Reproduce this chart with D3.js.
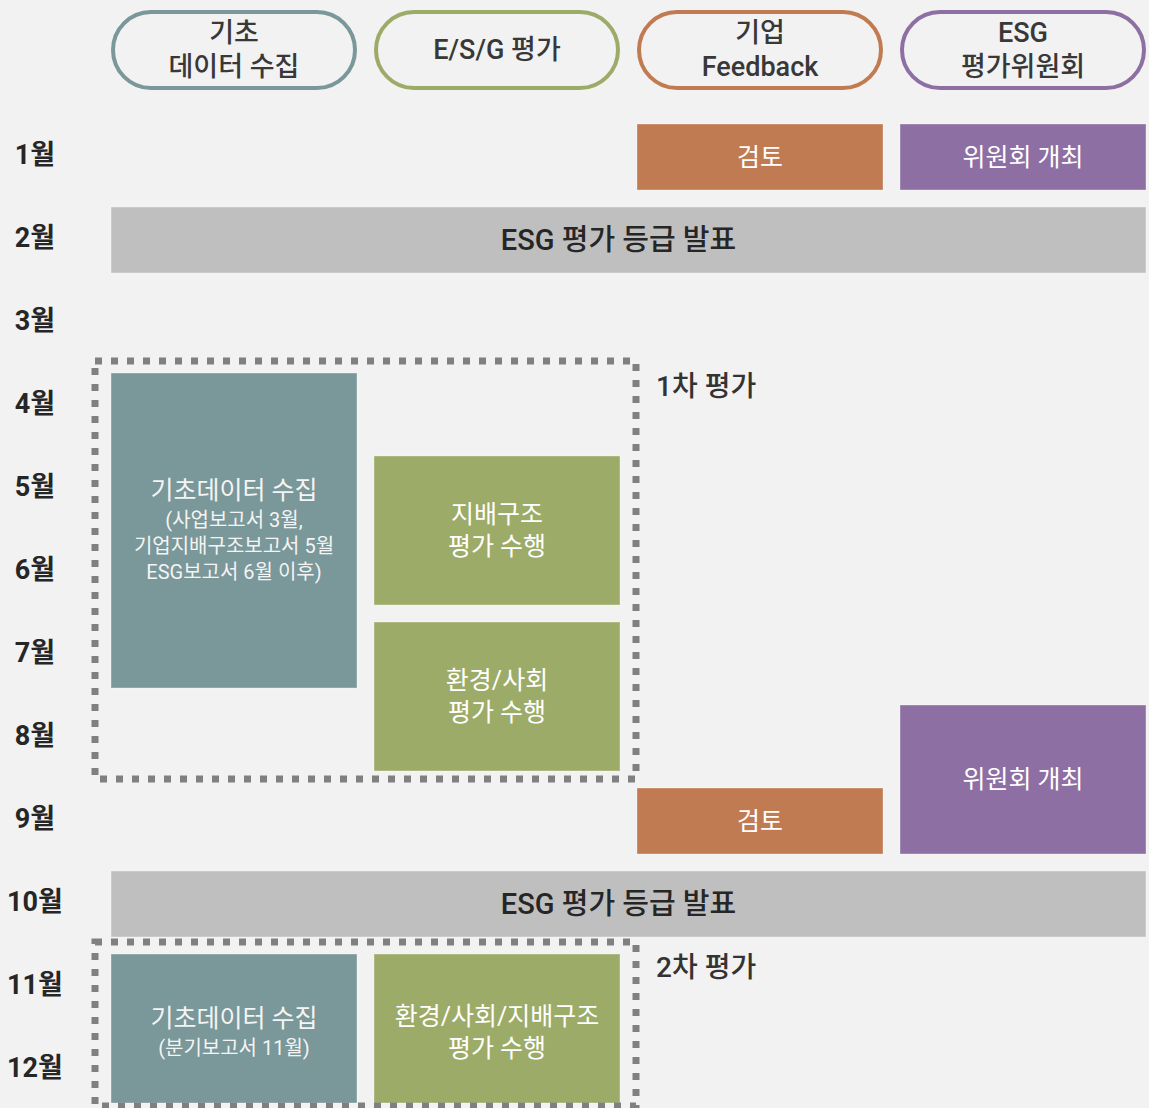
<!DOCTYPE html>
<html><head><meta charset="utf-8">
<script src="https://cdn.jsdelivr.net/npm/d3@7"></script>
<style>
html,body{margin:0;padding:0;background:#f2f2f2;}
text{font-family:Roboto,"Noto Sans CJK KR",sans-serif;}
</style></head>
<body>
<svg id="chart" width="1149" height="1108"></svg>
<script>
// ---- data ----
const months = ["1월","2월","3월","4월","5월","6월","7월","8월","9월","10월","11월","12월"];
const columns = [
  {lines:["기초","데이터 수집"], color:"#7a9799"},
  {lines:["E/S/G 평가"], color:"#9dab68"},
  {lines:["기업","Feedback"], color:"#c17b52"},
  {lines:["ESG","평가위원회"], color:"#8e6fa3"}
];
// col: start column index, span: number of columns, m0/m1: first/last month
const tasks = [
  {col:2, span:1, m0:1, m1:1, lines:["검토"], color:"#c17b52", text:"#ffffff"},
  {col:3, span:1, m0:1, m1:1, lines:["위원회 개최"], color:"#8e6fa3", text:"#ffffff"},
  {col:0, span:4, m0:2, m1:2, lines:["ESG 평가 등급 발표"], color:"#bfbfbf", text:"#262626", bold:true, shift:-10},
  {col:0, span:1, m0:4, m1:7, lines:["기초데이터 수집","(사업보고서 3월,","기업지배구조보고서 5월","ESG보고서 6월 이후)"], color:"#7a9799", text:"#f4f4f4", small:true},
  {col:1, span:1, m0:5, m1:6, lines:["지배구조","평가 수행"], color:"#9dab68", text:"#ffffff"},
  {col:1, span:1, m0:7, m1:8, lines:["환경/사회","평가 수행"], color:"#9dab68", text:"#ffffff"},
  {col:3, span:1, m0:8, m1:9, lines:["위원회 개최"], color:"#8e6fa3", text:"#ffffff"},
  {col:2, span:1, m0:9, m1:9, lines:["검토"], color:"#c17b52", text:"#ffffff"},
  {col:0, span:4, m0:10, m1:10, lines:["ESG 평가 등급 발표"], color:"#bfbfbf", text:"#262626", bold:true, shift:-10},
  {col:0, span:1, m0:11, m1:12, lines:["기초데이터 수집","(분기보고서 11월)"], color:"#7a9799", text:"#f4f4f4", small:true, dy:4},
  {col:1, span:1, m0:11, m1:12, lines:["환경/사회/지배구조","평가 수행"], color:"#9dab68", text:"#ffffff", dy:4}
];
const phases = [
  {label:"1차 평가", m0:4, m1:8},
  {label:"2차 평가", m0:11, m1:12}
];

// ---- layout ----
const svg = d3.select("#chart");
const GAP = 17;
const x = d3.scaleLinear().domain([0,4]).range([111, 111+263*4]);
const y = d3.scaleLinear().domain([1,13]).range([124, 124+83*12]);

// headers
const hdr = svg.append("g");
columns.forEach((c,i)=>{
  const x0 = x(i)+2, w = x(i+1)-x(i)-GAP-4;
  hdr.append("rect").attr("x",x0).attr("y",12).attr("width",w).attr("height",76)
    .attr("rx",38).attr("ry",38).attr("fill","#f2f2f2").attr("stroke",c.color).attr("stroke-width",4);
  const cx = x0 + w/2;
  const n = c.lines.length;
  c.lines.forEach((l,j)=>{
    hdr.append("text").attr("x",cx).attr("y",50 + (j-(n-1)/2)*34)
      .attr("text-anchor","middle").attr("dominant-baseline","central")
      .attr("font-size",27).attr("font-weight",500).attr("fill","#383838").text(l);
  });
});

// month labels
svg.append("g").selectAll("text").data(months).join("text")
  .attr("x",35).attr("y",(d,i)=>y(i+1)+31)
  .attr("text-anchor","middle").attr("dominant-baseline","central")
  .attr("font-size",27).attr("font-weight","bold").attr("fill","#262626")
  .text(d=>d);

// task boxes
const tg = svg.append("g");
tasks.forEach(t=>{
  const x0 = x(t.col), x1 = x(t.col+t.span)-GAP;
  const y0 = y(t.m0), y1 = y(t.m1+1)-GAP;
  tg.append("rect").attr("x",x0).attr("y",y0).attr("width",x1-x0).attr("height",y1-y0)
    .attr("fill",t.color).attr("stroke","rgba(255,255,255,0.35)").attr("stroke-width",1);
  const cx = (x0+x1)/2 + (t.shift||0), cy = (y0+y1)/2 + (t.dy||0);
  if(t.small){
    const sizes = t.lines.map((l,j)=> j===0?25:20);
    const heights = t.lines.map((l,j)=> j===0?30:26);
    const total = d3.sum(heights);
    let yy = cy - total/2;
    t.lines.forEach((l,j)=>{
      tg.append("text").attr("x",cx).attr("y",yy+heights[j]/2 + (j===0?-1:0))
        .attr("text-anchor","middle").attr("dominant-baseline","central")
        .attr("font-size",sizes[j]).attr("fill",t.text).text(l);
      yy += heights[j];
    });
  } else {
    const n = t.lines.length;
    t.lines.forEach((l,j)=>{
      tg.append("text").attr("x",cx).attr("y",cy + (j-(n-1)/2)*32)
        .attr("text-anchor","middle").attr("dominant-baseline","central")
        .attr("font-size",t.bold?29:25).attr("font-weight",t.bold?500:"normal")
        .attr("fill",t.text).text(l);
    });
  }
});

// phase dashed frames
const pg = svg.append("g");
phases.forEach(p=>{
  const x0 = x(0)-16, x1 = x(2)-1;
  const y0 = y(p.m0)-12, y1 = Math.min(y(p.m1+1)-9, 1106);
  pg.append("rect").attr("x",x0).attr("y",y0).attr("width",x1-x0).attr("height",y1-y0)
    .attr("fill","none").attr("stroke","#808080").attr("stroke-width",7)
    .attr("stroke-dasharray","7 9");
  pg.append("text").attr("x",x1+20).attr("y",y0+25)
    .attr("dominant-baseline","central")
    .attr("font-size",28).attr("font-weight",500).attr("fill","#333333").text(p.label);
});
</script>
</body></html>
